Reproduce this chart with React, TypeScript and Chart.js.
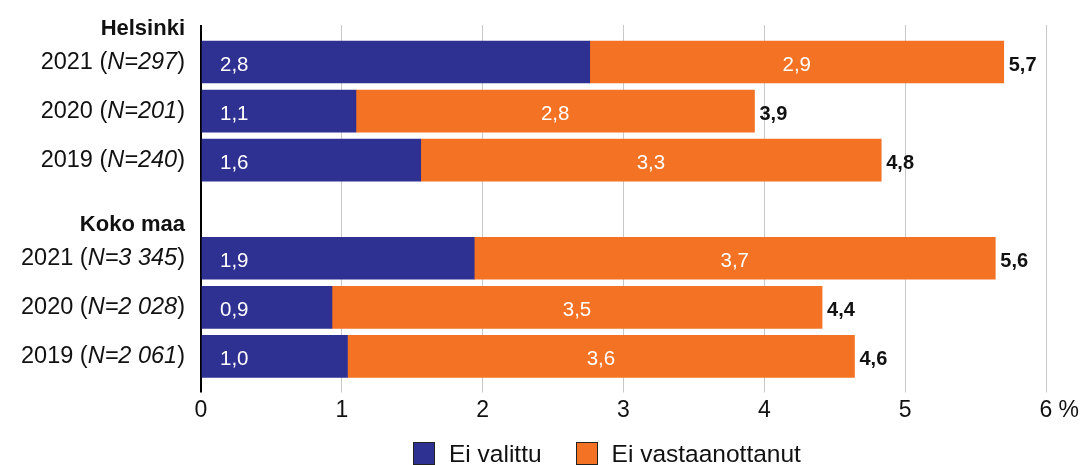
import React, { useEffect, useRef } from "react";
import { Chart, registerables } from "chart.js";

Chart.register(...registerables);

// ---- data ----
const rowLabels = ["Helsinki", "2021", "2020", "2019", "Koko maa", "2021", "2020", "2019"];
const rowIsHeader = [true, false, false, false, true, false, false, false];
const sampleSizes = ["", "297", "201", "240", "", "3 345", "2 028", "2 061"];
const seriesNames = ["Ei valittu", "Ei vastaanottanut"];
const notSelected = [null, 2.76, 1.1, 1.56, null, 1.94, 0.93, 1.04];
const notAccepted = [null, 2.94, 2.83, 3.27, null, 3.7, 3.48, 3.6];
const xTickValues = [0, 1, 2, 3, 4, 5, 6];
const xUnit = "%";

// ---- styles ----
const FONT = "'Liberation Sans', Arial, Helvetica, sans-serif";
const seriesColors = ["#2f3192", "#f37224"];
const BAR_THICKNESS = 42;

const fmt = (v: number) => v.toFixed(1).replace(".", ",");

const labelPlugin = {
  id: "customLabels",
  afterDatasetsDraw(chart: any) {
    const ctx = chart.ctx;
    const m0 = chart.getDatasetMeta(0);
    const m1 = chart.getDatasetMeta(1);
    ctx.save();
    rowLabels.forEach((_, i) => {
      const a = notSelected[i];
      const b = notAccepted[i];
      if (a == null || b == null) return;
      const bar0 = m0.data[i];
      const bar1 = m1.data[i];
      const y = bar0.y + 3;
      ctx.textBaseline = "middle";
      ctx.fillStyle = "#ffffff";
      ctx.font = `20.5px ${FONT}`;
      ctx.textAlign = "left";
      ctx.fillText(fmt(a), bar0.base + 18, y);
      ctx.textAlign = "center";
      ctx.fillText(fmt(b), (bar1.base + bar1.x) / 2, y);
      ctx.fillStyle = "#111111";
      ctx.font = `bold 20px ${FONT}`;
      ctx.textAlign = "left";
      ctx.fillText(fmt(a + b), bar1.x + 5, y);
    });
    ctx.restore();
  },
  afterDraw(chart: any) {
    const ctx = chart.ctx;
    const yScale = chart.scales.y;
    const xScale = chart.scales.x;
    const right = chart.chartArea.left - 16;
    ctx.save();
    ctx.fillStyle = "#111111";
    rowLabels.forEach((lab, i) => {
      if (rowIsHeader[i]) {
        ctx.font = `bold 22px ${FONT}`;
        ctx.textAlign = "right";
        ctx.textBaseline = "alphabetic";
        const yNext = yScale.getPixelForValue(i + 1) - BAR_THICKNESS / 2 - 6;
        ctx.fillText(lab, right, yNext);
        return;
      }
      const y = yScale.getPixelForValue(i);
      const parts = [
        { t: `${lab} (`, f: `23.5px ${FONT}` },
        { t: `N=${sampleSizes[i]}`, f: `italic 23.5px ${FONT}` },
        { t: ")", f: `23.5px ${FONT}` },
      ];
      let x = right;
      ctx.textBaseline = "middle";
      ctx.textAlign = "right";
      for (let k = parts.length - 1; k >= 0; k--) {
        ctx.font = parts[k].f;
        ctx.fillText(parts[k].t, x, y);
        x -= ctx.measureText(parts[k].t).width;
      }
    });
    // unit after the last x tick
    try {
      const items = xScale.getLabelItems();
      const last = items[items.length - 1];
      const tr = last.options.translation;
      ctx.font = `23px ${FONT}`;
      const w = ctx.measureText(String(last.label)).width;
      ctx.textAlign = "left";
      ctx.textBaseline = last.options.textBaseline;
      ctx.fillText(xUnit, tr[0] + w / 2 + 6, tr[1] + last.textOffset);
    } catch (e) {
      /* ignore */
    }
    ctx.restore();
  },
};

export default function App() {
  const ref = useRef<HTMLCanvasElement>(null);
  useEffect(() => {
    const makeData = (vals: (number | null)[]) => vals.map((v, i) => ({ x: v, y: i }));
    const chart = new Chart(ref.current as HTMLCanvasElement, {
      type: "bar",
      data: {
        datasets: [
          {
            label: seriesNames[0],
            data: makeData(notSelected) as any,
            backgroundColor: seriesColors[0],
            borderWidth: 0,
            barThickness: BAR_THICKNESS,
          },
          {
            label: seriesNames[1],
            data: makeData(notAccepted) as any,
            backgroundColor: seriesColors[1],
            borderWidth: 0,
            barThickness: BAR_THICKNESS,
          },
        ],
      },
      options: {
        indexAxis: "y",
        animation: false,
        responsive: true,
        maintainAspectRatio: false,
        layout: { padding: { left: 201, right: 36, top: 25, bottom: 37 } },
        plugins: { legend: { display: false }, tooltip: { enabled: false } },
        scales: {
          y: {
            type: "linear",
            display: false,
            reverse: true,
            stacked: true,
            offset: false,
            grid: { offset: false },
            min: 0.245,
            max: 7.449,
          },
          x: {
            type: "linear",
            stacked: true,
            min: xTickValues[0],
            max: xTickValues[xTickValues.length - 1],
            border: { display: false },
            afterBuildTicks: (scale: any) => {
              scale.ticks = xTickValues.map((v) => ({ value: v }));
            },
            grid: {
              color: (c: any) => (c.tick && c.tick.value === 0 ? "#000000" : "#c8c8c8"),
              lineWidth: (c: any) => (c.tick && c.tick.value === 0 ? 2 : 1),
              tickLength: 14,
              drawTicks: true,
            },
            ticks: {
              padding: 4,
              color: "#111111",
              font: { family: FONT, size: 23 },
              callback: (v: any) => String(v),
            },
          },
        },
      },
      plugins: [labelPlugin],
    } as any);
    return () => chart.destroy();
  }, []);

  const legendItem = (name: string, color: string, gapAfter: number) => (
    <div key={name} style={{ display: "flex", alignItems: "center", marginRight: gapAfter }}>
      <div
        style={{
          width: 20,
          height: 21,
          background: color,
          border: "1px solid #222",
          marginRight: 14,
        }}
      />
      <span style={{ font: `24.5px ${FONT}`, color: "#111", whiteSpace: "nowrap" }}>{name}</span>
    </div>
  );

  return (
    <div style={{ position: "fixed", left: 0, top: 0, width: 1082, height: 465, background: "#fff" }}>
      <div style={{ position: "relative", width: "100%", height: "100%" }}>
        <canvas ref={ref} />
      </div>
      <div
        style={{
          position: "absolute",
          left: 413,
          top: 442,
          height: 23,
          display: "flex",
          alignItems: "center",
        }}
      >
        {legendItem(seriesNames[0], seriesColors[0], 34)}
        {legendItem(seriesNames[1], seriesColors[1], 0)}
      </div>
    </div>
  );
}
